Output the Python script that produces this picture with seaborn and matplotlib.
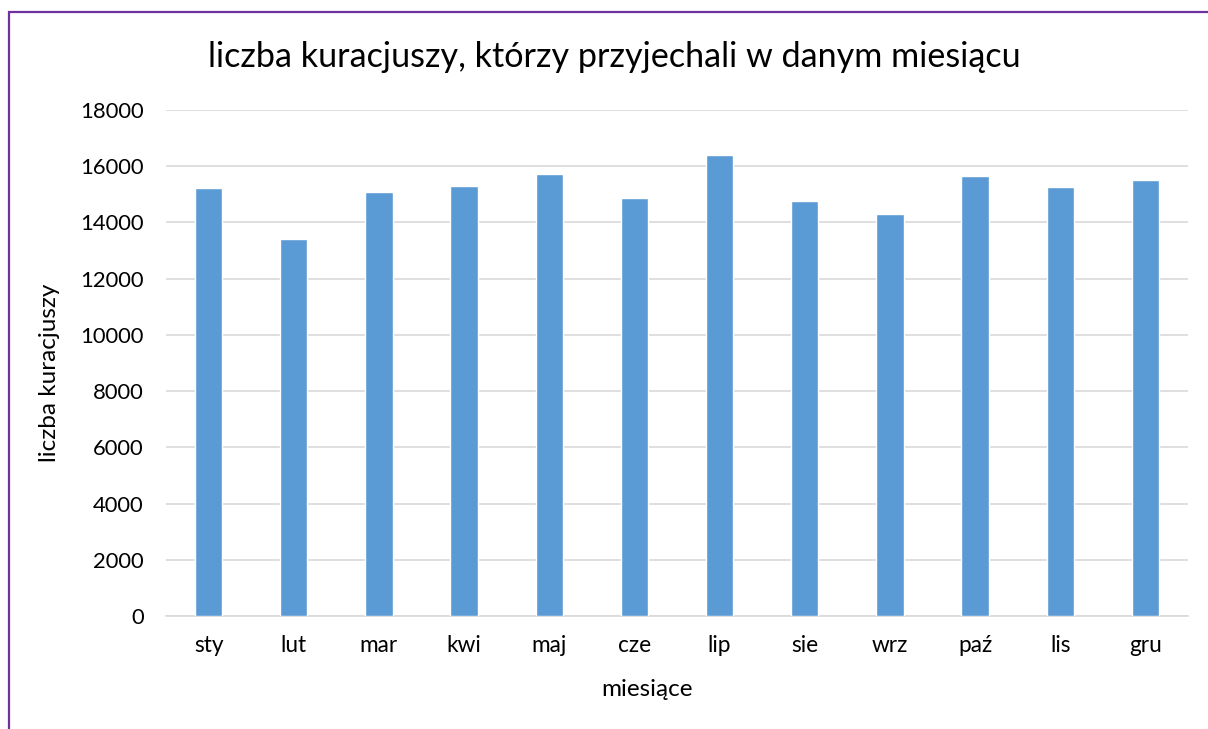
import matplotlib
matplotlib.use("Agg")
import matplotlib.pyplot as plt
import seaborn as sns
import pandas as pd
from matplotlib.patches import Rectangle

months = ["sty", "lut", "mar", "kwi", "maj", "cze", "lip", "sie", "wrz", "paź", "lis", "gru"]
values = [15220, 13400, 15090, 15300, 15720, 14870, 16390, 14770, 14300, 15640, 15270, 15520]
yticks = [0, 2000, 4000, 6000, 8000, 10000, 12000, 14000, 16000, 18000]

sns.set_theme(style="white")
plt.rcParams['font.family'] = ['Lato', 'DejaVu Sans']

df = pd.DataFrame({"miesiąc": months, "liczba": values})

fig = plt.figure(figsize=(12.08, 7.29), dpi=100)
ax = fig.add_axes([166/1208, 1-616/729, (1188-166)/1208, (616-110)/729])

sns.barplot(data=df, x="miesiąc", y="liczba", color="#5b9bd5", saturation=1,
            width=0.32, ax=ax, zorder=3)

ax.set_ylim(0, 18000)
ax.set_yticks(yticks)
ax.set_yticklabels([str(t) for t in yticks], fontsize=15.8, color="#000000")
ax.tick_params(axis='x', labelsize=16.3, colors="#000000", length=0, pad=14)
ax.tick_params(axis='y', length=0, pad=16)
ax.yaxis.grid(True, color="#d9d9d9", linewidth=1.2, zorder=0)
ax.set_axisbelow(True)
for s in ["top", "right", "left"]:
    ax.spines[s].set_visible(False)
ax.spines["bottom"].set_color("#d9d9d9")
ax.spines["bottom"].set_linewidth(1.2)

ax.set_xlabel("miesiące", fontsize=17.5, color="#000000")
ax.set_ylabel("liczba kuracjuszy", fontsize=17.5, color="#000000")
ax.xaxis.set_label_coords((647-166)/1022, (616-690)/506)
ax.xaxis.label.set_va("center")
ax.yaxis.set_label_coords((50-166)/1022, (616-373)/506)
ax.yaxis.label.set_va("center")
ax.yaxis.label.set_ha("center")

fig.text(614.5/1208, 1-57/729, "liczba kuracjuszy, którzy przyjechali w danym miesiącu",
         ha="center", va="center", fontsize=24.6, color="#000000")

border = Rectangle((8.5/1208, -0.05), 1.1, 1-11.5/729 + 0.05, transform=fig.transFigure,
                   fill=False, edgecolor="#7030a0", linewidth=1.6, clip_on=False)
fig.patches.append(border)

fig.savefig("out.png", dpi=100, facecolor="white")
